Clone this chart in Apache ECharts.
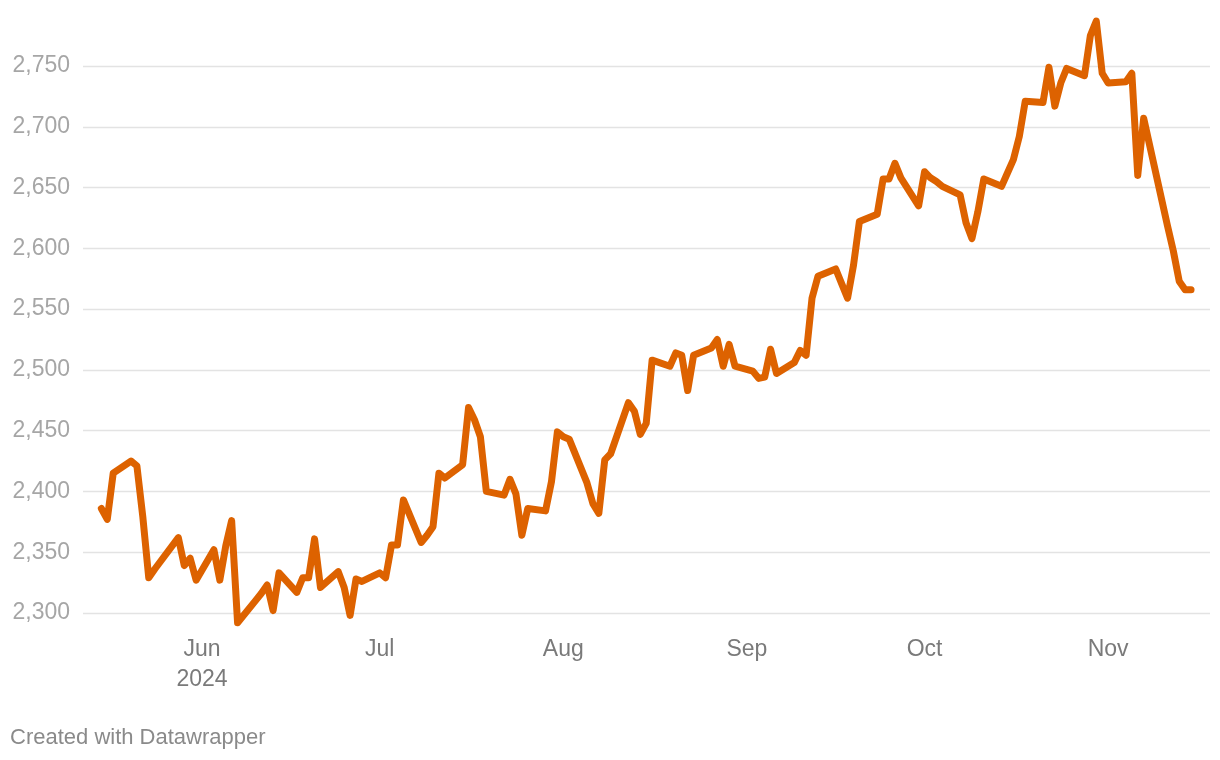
<!DOCTYPE html>
<html>
<head>
<meta charset="utf-8">
<script src="https://cdn.jsdelivr.net/npm/echarts@6/dist/echarts.min.js"></script>
<style>
  html, body { margin: 0; padding: 0; background: #fff; }
  #chart { width: 1220px; height: 760px; }
</style>
</head>
<body>
<div id="chart"></div>
<script>
// ---- data ----
const dates = [
  '2024-05-15','2024-05-16','2024-05-17','2024-05-20','2024-05-21','2024-05-22','2024-05-23','2024-05-24','2024-05-28','2024-05-29','2024-05-30','2024-05-31',
  '2024-06-03','2024-06-04','2024-06-05','2024-06-06','2024-06-07','2024-06-10','2024-06-11','2024-06-12','2024-06-13','2024-06-14',
  '2024-06-17','2024-06-18','2024-06-19','2024-06-20','2024-06-21','2024-06-24','2024-06-25','2024-06-26','2024-06-27','2024-06-28',
  '2024-07-01','2024-07-02','2024-07-03','2024-07-04','2024-07-05','2024-07-08','2024-07-09','2024-07-10','2024-07-11','2024-07-12',
  '2024-07-15','2024-07-16','2024-07-17','2024-07-18','2024-07-19','2024-07-22','2024-07-23','2024-07-24','2024-07-25','2024-07-26',
  '2024-07-29','2024-07-30','2024-07-31','2024-08-01','2024-08-02','2024-08-05','2024-08-06','2024-08-07','2024-08-08','2024-08-09',
  '2024-08-12','2024-08-13','2024-08-14','2024-08-15','2024-08-16','2024-08-19','2024-08-20','2024-08-21','2024-08-22','2024-08-23',
  '2024-08-26','2024-08-27','2024-08-28','2024-08-29','2024-08-30','2024-09-02','2024-09-03','2024-09-04','2024-09-05','2024-09-06',
  '2024-09-09','2024-09-10','2024-09-11','2024-09-12','2024-09-13','2024-09-16','2024-09-17','2024-09-18','2024-09-19','2024-09-20',
  '2024-09-23','2024-09-24','2024-09-25','2024-09-26','2024-09-27','2024-09-30','2024-10-01','2024-10-02','2024-10-03','2024-10-04',
  '2024-10-07','2024-10-08','2024-10-09','2024-10-10','2024-10-11','2024-10-14','2024-10-15','2024-10-16','2024-10-17','2024-10-18',
  '2024-10-21','2024-10-22','2024-10-23','2024-10-24','2024-10-25','2024-10-28','2024-10-29','2024-10-30','2024-10-31','2024-11-01',
  '2024-11-04','2024-11-05','2024-11-06','2024-11-07','2024-11-08','2024-11-11','2024-11-12','2024-11-13','2024-11-14','2024-11-15'
];
const prices = [
  2386,2377,2415,2425,2421,2379,2329,2336,2362,2339,2345,2327,
  2352,2327,2355,2376,2292,2310,2316,2323,2302,2333,
  2317,2329,2329,2361,2321,2334,2321,2298,2328,2326,
  2333,2329,2356,2356,2393,2358,2364,2371,2415,2411,
  2422,2469,2459,2445,2400,2397,2410,2398,2364,2386,
  2384,2408,2449,2445,2443,2407,2390,2382,2426,2431,
  2473,2466,2447,2456,2508,2503,2514,2512,2483,2512,
  2518,2525,2503,2521,2503,2499,2493,2494,2517,2497,
  2506,2516,2512,2559,2577,2583,2571,2559,2586,2622,
  2628,2657,2657,2670,2658,2635,2663,2658,2655,2651,
  2644,2621,2608,2630,2657,2651,2662,2673,2692,2721,
  2720,2749,2717,2736,2748,2742,2775,2787,2744,2736,
  2737,2744,2660,2707,2685,2619,2598,2573,2566,2566
];
const monthTicks = ['2024-06-01','2024-07-01','2024-08-01','2024-09-01','2024-10-01','2024-11-01'];
const monthLabels = ['Jun','Jul','Aug','Sep','Oct','Nov'];
const yearLabel = '2024';
const yTicks = [2300, 2350, 2400, 2450, 2500, 2550, 2600, 2650, 2700, 2750];
const footerText = 'Created with Datawrapper';

// ---- chart ----
function parseUTC(s) {
  const p = s.split('-').map(Number);
  return Date.UTC(p[0], p[1] - 1, p[2]);
}
const DAY = 86400000;
const tickTimes = monthTicks.map(parseUTC);
const xMin = tickTimes[0] - 20.1 * DAY;
const xMax = tickTimes[0] + 170.2 * DAY;

const seriesData = dates.map((d, i) => [parseUTC(d), prices[i]]);

const FONT = '"Liberation Sans", Arial, Helvetica, sans-serif';
const chart = echarts.init(document.getElementById('chart'), null, { renderer: 'canvas' });
chart.setOption({
  animation: false,
  backgroundColor: '#ffffff',
  grid: { left: 83, right: 10, top: 66, bottom: 147, containLabel: false, outerBoundsMode: 'none' },
  xAxis: {
    type: 'value',
    min: xMin,
    max: xMax,
    axisLine: { show: false },
    axisTick: { show: false },
    splitLine: { show: false },
    axisLabel: {
      customValues: tickTimes,
      formatter: function (val) {
        const idx = tickTimes.indexOf(val);
        const lab = idx >= 0 ? monthLabels[idx] : '';
        return idx === 0 ? lab + '\n' + yearLabel : lab;
      },
      color: '#7a7a7a',
      fontFamily: FONT,
      fontSize: 23,
      lineHeight: 30,
      margin: 22,
      hideOverlap: false
    }
  },
  yAxis: {
    type: 'value',
    min: yTicks[0],
    max: yTicks[yTicks.length - 1],
    interval: 50,
    axisLine: { show: false },
    axisTick: { show: false },
    splitLine: { show: true, lineStyle: { color: '#e3e3e3', width: 1.3 } },
    axisLabel: {
      formatter: function (v) { return v.toLocaleString('en-US'); },
      color: '#a6a6a6',
      fontFamily: FONT,
      fontSize: 23,
      margin: 13
    }
  },
  series: [{
    type: 'line',
    data: seriesData,
    showSymbol: false,
    symbol: 'none',
    clip: false,
    lineStyle: { color: '#dd6200', width: 7, cap: 'round', join: 'round' }
  }],
  graphic: [{
    type: 'text',
    left: 10,
    top: 727,
    style: { text: footerText, fill: '#8a8a8a', font: '22px ' + FONT }
  }]
});
</script>
</body>
</html>
